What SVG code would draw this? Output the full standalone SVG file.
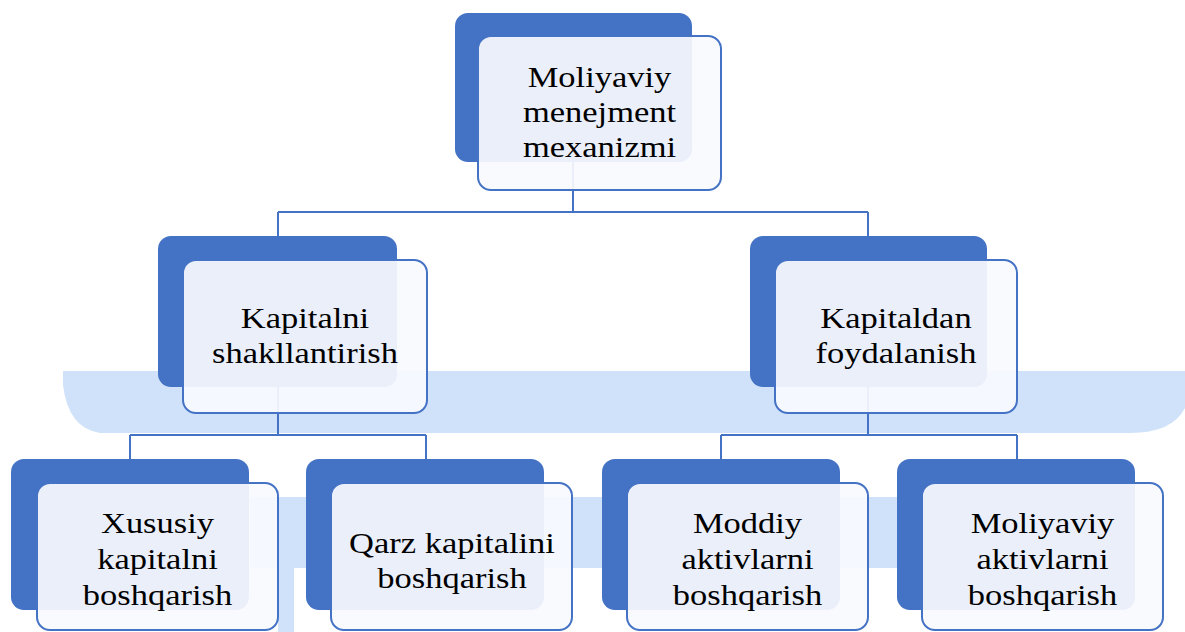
<svg xmlns="http://www.w3.org/2000/svg" width="1185" height="632" viewBox="0 0 1185 632">
<style>
.bg{fill:#CFE2FA}
.back{fill:#4472C4}
.front{fill:#F8FAFE;fill-opacity:0.92;stroke:#4472C4;stroke-width:2}
.conn{fill:none;stroke:#4472C4;stroke-width:2}
text{font-family:"Liberation Serif","Times New Roman",serif;font-size:30px;fill:#000;text-anchor:middle}
</style>
<rect width="1185" height="632" fill="#FFFFFF"/>
<g id="background">
<path class="bg" d="M63,371 H1185 V408 Q1172,433 1130,433 H100 Q68,428 63,385 Z"/>
<rect class="bg" x="250" y="497" width="670" height="71"/>
<rect class="bg" x="278" y="568" width="16" height="64"/>
</g>
<g id="connectors">
<path class="conn" d="M573,150 V212 M278,212 H868 M278,212 V237 M868,212 V237"/>
<path class="conn" d="M278,380 V435 M130,435 H426 M130,435 V460 M426,435 V460"/>
<path class="conn" d="M868,380 V435 M721,435 H1017 M721,435 V460 M1017,435 V460"/>
</g>
<g id="node-top">
<rect class="back" x="455" y="13" width="237" height="149" rx="13"/>
<rect class="front" x="478" y="36" width="243" height="154" rx="13"/>
<g transform="matrix(1.15 0 0 1 599.5 0)">
<text x="0" y="87">Moliyaviy</text>
<text x="0" y="122">menejment</text>
<text x="0" y="157">mexanizmi</text>
</g>
</g>
<g id="node-kapitalni">
<rect class="back" x="158" y="236" width="239" height="151" rx="13"/>
<rect class="front" x="183" y="260" width="244" height="153" rx="13"/>
<g transform="matrix(1.15 0 0 1 305 0)">
<text x="0" y="328">Kapitalni</text>
<text x="0" y="363">shakllantirish</text>
</g>
</g>
<g id="node-kapitaldan">
<rect class="back" x="750" y="236" width="237" height="151" rx="13"/>
<rect class="front" x="775" y="260" width="242" height="153" rx="13"/>
<g transform="matrix(1.15 0 0 1 896 0)">
<text x="0" y="328">Kapitaldan</text>
<text x="0" y="363">foydalanish</text>
</g>
</g>
<g id="node-xususiy">
<rect class="back" x="11" y="459" width="238" height="151" rx="13"/>
<rect class="front" x="37" y="483" width="241" height="147" rx="13"/>
<g transform="matrix(1.15 0 0 1 157.5 0)">
<text x="0" y="533">Xususiy</text>
<text x="0" y="569">kapitalni</text>
<text x="0" y="605">boshqarish</text>
</g>
</g>
<g id="node-qarz">
<rect class="back" x="306" y="459" width="238" height="151" rx="13"/>
<rect class="front" x="331" y="483" width="241" height="147" rx="13"/>
<g transform="matrix(1.15 0 0 1 452 0)">
<text x="0" y="553">Qarz kapitalini</text>
<text x="0" y="588">boshqarish</text>
</g>
</g>
<g id="node-moddiy">
<rect class="back" x="602" y="459" width="238" height="151" rx="13"/>
<rect class="front" x="627" y="483" width="241" height="147" rx="13"/>
<g transform="matrix(1.15 0 0 1 747.5 0)">
<text x="0" y="533">Moddiy</text>
<text x="0" y="569">aktivlarni</text>
<text x="0" y="605">boshqarish</text>
</g>
</g>
<g id="node-moliyaviy-aktiv">
<rect class="back" x="897" y="459" width="238" height="151" rx="13"/>
<rect class="front" x="922" y="483" width="241" height="147" rx="13"/>
<g transform="matrix(1.15 0 0 1 1042.5 0)">
<text x="0" y="533">Moliyaviy</text>
<text x="0" y="569">aktivlarni</text>
<text x="0" y="605">boshqarish</text>
</g>
</g>
</svg>
